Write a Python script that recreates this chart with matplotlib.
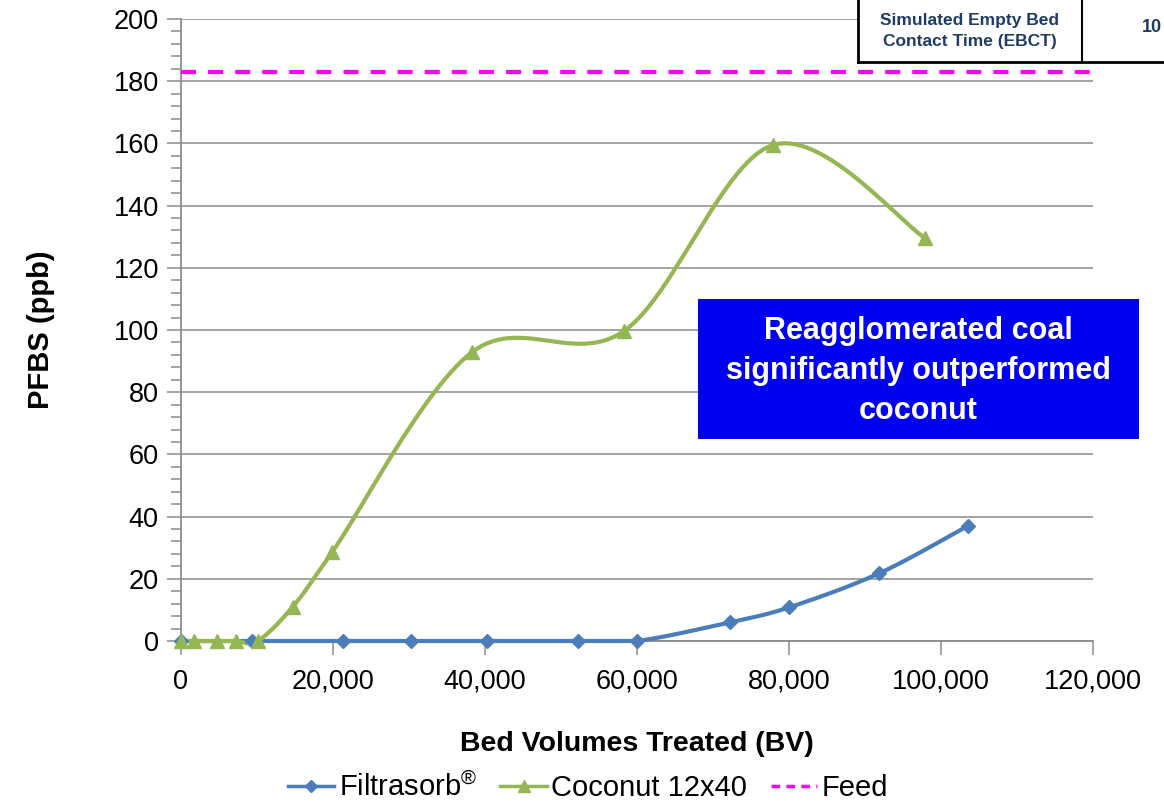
import numpy as np
import matplotlib.pyplot as plt
from matplotlib.lines import Line2D

# data
filtra_bv = [0, 9300, 21300, 30300, 40300, 52200, 60000, 72200, 80000, 91900, 103600]
filtra_ppb = [0, 0, 0, 0, 0, 0, 0, 6.0, 10.8, 21.8, 37.1]
coco_bv = [0, 1750, 4700, 7300, 10100, 14700, 19900, 38300, 58300, 77900, 97900]
coco_ppb = [0, 0, 0, 0, 0, 11.0, 28.6, 92.9, 99.7, 159.5, 129.6]
feed_bv = [0, 120500]
feed_ppb = [183, 183]

x_ticks = [0, 20000, 40000, 60000, 80000, 100000, 120000]
x_labels = ['0', '20,000', '40,000', '60,000', '80,000', '100,000', '120,000']

FONT = ['Liberation Sans', 'DejaVu Sans']
plt.rcParams['font.family'] = FONT

BLUE = '#4A7DBA'
GREEN = '#94B653'


def smooth(x, y, sx=912 / 120000, sy=622 / 200, n=30):
    # excel-style smoothed line: bezier through points, tension 1/6, in screen space
    p = np.column_stack([np.asarray(x, float) * sx, np.asarray(y, float) * sy])
    out = [p[0]]
    t = np.linspace(0, 1, n)[1:, None]
    for i in range(len(p) - 1):
        p0 = p[i - 1] if i > 0 else p[i]
        p3 = p[i + 2] if i + 2 < len(p) else p[i + 1]
        c1 = p[i] + (p[i + 1] - p0) / 6
        c2 = p[i + 1] - (p3 - p[i]) / 6
        seg = ((1 - t) ** 3) * p[i] + 3 * ((1 - t) ** 2) * t * c1 + 3 * (1 - t) * t ** 2 * c2 + t ** 3 * p[i + 1]
        out.extend(seg)
    out = np.array(out)
    return out[:, 0] / sx, out[:, 1] / sy


fig = plt.figure(figsize=(11.64, 8.11), dpi=100)
ax = fig.add_axes([181 / 1164, 1 - 641 / 811, 912 / 1164, 622 / 811])

ax.plot(feed_bv, feed_ppb, color='#FF00FF', lw=3, dashes=(3.6, 2.9), zorder=3, clip_on=False)

sx, sy = smooth(filtra_bv, filtra_ppb)
ax.plot(sx, np.maximum(sy, 0), color=BLUE, lw=3, zorder=4, solid_capstyle='round', clip_on=False)
ax.plot(filtra_bv, filtra_ppb, ls='none', marker='D', ms=7.5, color=BLUE, zorder=5, clip_on=False)

sx, sy = smooth(coco_bv, coco_ppb)
ax.plot(sx, sy, color=GREEN, lw=3, zorder=4, solid_capstyle='round', clip_on=False)
ax.plot(coco_bv, coco_ppb, ls='none', marker='^', ms=9.5, color=GREEN, zorder=5, clip_on=False)

ax.set_xlim(0, 120000)
ax.set_ylim(0, 200)
ax.set_xticks(x_ticks)
ax.set_xticklabels(x_labels)
ax.set_yticks(np.arange(0, 201, 20))
ax.set_yticks(np.arange(0, 201, 4), minor=True)
ax.grid(axis='y', which='major', color='#8C8C8C', lw=1.1)
ax.set_axisbelow(True)
for s in ['top', 'right']:
    ax.spines[s].set_visible(False)
for s in ['left', 'bottom']:
    ax.spines[s].set_color('#8C8C8C')
    ax.spines[s].set_linewidth(1.3)
ax.tick_params(axis='both', which='major', labelsize=19.5, color='#8C8C8C', length=10, width=1.1)
ax.tick_params(axis='y', which='minor', color='#8C8C8C', length=7, width=1.1)
ax.tick_params(axis='y', pad=6)
ax.tick_params(axis='x', pad=10)
ax.set_xlabel('Bed Volumes Treated (BV)', fontsize=20.5, fontweight='bold', labelpad=26)
ax.set_ylabel('PFBS (ppb)', fontsize=21, fontweight='bold', labelpad=42)

# blue callout box
fig.add_artist(plt.Rectangle((698 / 1164, 1 - 439 / 811), 441 / 1164, 140 / 811,
                             transform=fig.transFigure, fc='#0000F0', ec='none', zorder=2))
fig.text(918 / 1164, 1 - 371 / 811, 'Reagglomerated coal\nsignificantly outperformed\ncoconut',
         ha='center', va='center', color='white', fontsize=22, fontweight='bold',
         linespacing=1.42, zorder=3)

# table fragment at top right
fig.add_artist(plt.Rectangle((859 / 1164, 1 - 61 / 811), 305 / 1164, 61 / 811,
                             transform=fig.transFigure, fc='white', ec='none', zorder=2))
fig.add_artist(Line2D([858 / 1164, 858 / 1164], [1, 1 - 62 / 811], color='black', lw=2, zorder=3))
fig.add_artist(Line2D([1082 / 1164, 1082 / 1164], [1, 1 - 62 / 811], color='black', lw=1.5, zorder=3))
fig.add_artist(Line2D([858 / 1164, 1], [1 - 62 / 811, 1 - 62 / 811], color='black', lw=2, zorder=3))
fig.text(970 / 1164, 1 - 31 / 811, 'Simulated Empty Bed\nContact Time (EBCT)', ha='center', va='center',
         fontsize=12.5, fontweight='bold', color='#1F3B66', linespacing=1.55, zorder=4)
fig.text(1162 / 1164, 1 - 28 / 811, '10', ha='right', va='center',
         fontsize=13, fontweight='bold', color='#1F3B66', zorder=4)

handles = [
    Line2D([], [], color=BLUE, lw=2.5, marker='D', ms=6),
    Line2D([], [], color=GREEN, lw=2.5, marker='^', ms=8),
    Line2D([], [], color='#FF00FF', lw=2.5, dashes=(2.5, 1.8)),
]
labels = ['$\\mathregular{Filtrasorb^{®}}$', 'Coconut 12x40', 'Feed']
fig.legend(handles, labels, loc='center', bbox_to_anchor=(588 / 1164, 1 - 787 / 811), ncol=3,
           frameon=False, fontsize=21, handlelength=1.6, handletextpad=0.15, columnspacing=0.8)

fig.savefig('out.png', dpi=100)
